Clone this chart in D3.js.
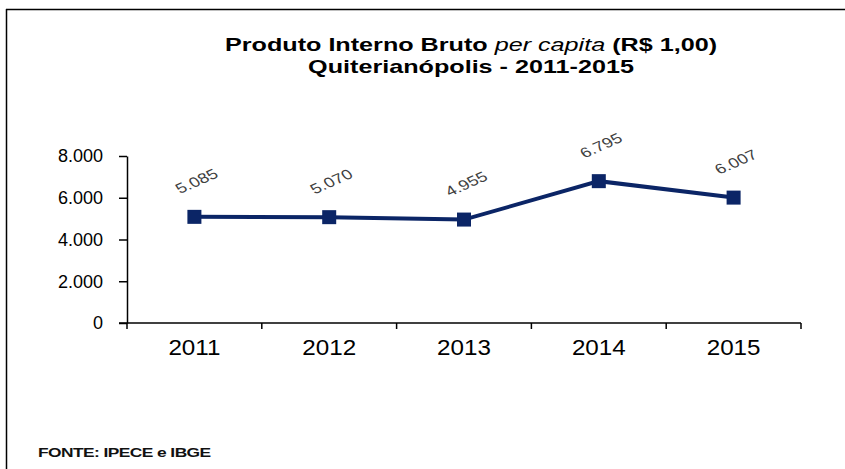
<!DOCTYPE html>
<html>
<head>
<meta charset="utf-8">
<script src="https://cdn.jsdelivr.net/npm/d3@7"></script>
<style>
    body { margin: 0; background: #fff; }
    text { font-family: "Liberation Sans", Arial, sans-serif; }
</style>
</head>
<body>
<div id="chart"></div>
<script>
// data
let years = ["2011", "2012", "2013", "2014", "2015"];
let pibPerCapita = [5085, 5070, 4955, 6795, 6007];
let yTicks = [0, 2000, 4000, 6000, 8000];

let width = 845, height = 469;
let margin = {top: 156, right: 44, bottom: 146, left: 127};

let svg = d3.select("#chart").append("svg")
    .attr("width", width)
    .attr("height", height);

// frame lines (top + left)
svg.append("line")
    .attr("x1", 6).attr("x2", width).attr("y1", 9.5).attr("y2", 9.5)
    .attr("stroke", "#000").attr("stroke-width", 1.5);
svg.append("line")
    .attr("x1", 6.5).attr("x2", 6.5).attr("y1", 9).attr("y2", height)
    .attr("stroke", "#000").attr("stroke-width", 1.5);

// title (the original picture is stretched sideways)
let title = svg.append("text")
    .attr("transform", "translate(471, 51) scale(1.36, 1)")
    .attr("text-anchor", "middle")
    .style("font-size", "18.5px")
    .style("font-weight", "bold");
title.append("tspan").text("Produto Interno Bruto ");
title.append("tspan").style("font-style", "italic").style("font-weight", "normal").text("per capita");
title.append("tspan").text(" (R$ 1,00)");

svg.append("text")
    .attr("transform", "translate(471, 73) scale(1.36, 1)")
    .attr("text-anchor", "middle")
    .style("font-size", "18.5px")
    .style("font-weight", "bold")
    .text("Quiterianópolis  - 2011-2015");

let g = svg.append("g")
    .attr("transform", `translate(${margin.left}, ${margin.top})`);

let x = d3.scaleBand()
    .domain(years)
    .range([0, 801 - margin.left]);

let y = d3.scaleLinear()
    .domain([0, 8000])
    .range([167, 0]);

let fmt = d3.formatLocale({decimal: ",", thousands: ".", grouping: [3], currency: ["R$", ""]}).format(",.0f");

// y axis
let yAxis = d3.axisLeft(y)
    .tickValues(yTicks)
    .tickFormat(fmt)
    .tickSize(8)
    .tickSizeOuter(0)
    .tickPadding(16);

let yAxisGroup = g.append("g")
    .attr("class", "y-axis axis")
    .call(yAxis);

yAxisGroup.select(".domain").attr("stroke-width", 1.5);
yAxisGroup.selectAll(".tick line").attr("stroke-width", 1.5);
yAxisGroup.selectAll(".tick text")
    .style("font-size", "18px")
    .attr("fill", "#000");

// x axis: ticks at band boundaries
let xAxisGroup = g.append("g")
    .attr("class", "x-axis axis")
    .attr("transform", `translate(0, ${y(0)})`);

xAxisGroup.append("line")
    .attr("x1", -8).attr("x2", x.range()[1])
    .attr("stroke", "#000").attr("stroke-width", 1.5);

let bounds = years.map(d => x(d)).concat([x.range()[1]]);
xAxisGroup.selectAll(".xtick")
    .data(bounds)
    .enter().append("line")
    .attr("class", "xtick")
    .attr("x1", d => d).attr("x2", d => d)
    .attr("y1", 0).attr("y2", 6)
    .attr("stroke", "#000").attr("stroke-width", 1.5);

xAxisGroup.selectAll(".xlabel")
    .data(years)
    .enter().append("text")
    .attr("class", "xlabel")
    .attr("transform", d => `translate(${x(d) + x.bandwidth() / 2}, 32) scale(1.1, 1)`)
    .attr("text-anchor", "middle")
    .style("font-size", "22px")
    .attr("fill", "#000")
    .text(d => d);

// line + markers
let points = years.map((d, i) => ({year: d, value: pibPerCapita[i]}));

let line = d3.line()
    .x(d => x(d.year) + x.bandwidth() / 2)
    .y(d => y(d.value));

g.append("path")
    .datum(points)
    .attr("d", line)
    .attr("fill", "none")
    .attr("stroke", "#0b2566")
    .attr("stroke-width", 4);

g.selectAll(".marker")
    .data(points)
    .enter().append("rect")
    .attr("class", "marker")
    .attr("x", d => x(d.year) + x.bandwidth() / 2 - 7)
    .attr("y", d => y(d.value) - 7)
    .attr("width", 14)
    .attr("height", 14)
    .attr("fill", "#0b2566");

// data labels (rotated, stretched like the picture)
g.selectAll(".dlabel")
    .data(points)
    .enter().append("text")
    .attr("class", "dlabel")
    .attr("transform", d => `translate(${x(d.year) + x.bandwidth() / 2 + 2}, ${y(d.value) - 36}) scale(1.3, 1) rotate(-30)`)
    .attr("text-anchor", "middle")
    .attr("dominant-baseline", "central")
    .style("font-size", "14px")
    .attr("fill", "#404040")
    .text(d => fmt(d.value));

// source
svg.append("text")
    .attr("transform", "translate(38, 457) scale(1.45, 1)")
    .style("font-size", "12px")
    .style("font-weight", "bold")
    .style("letter-spacing", "-0.4px")
    .attr("fill", "#111")
    .text("FONTE: IPECE e IBGE");
</script>
</body>
</html>
